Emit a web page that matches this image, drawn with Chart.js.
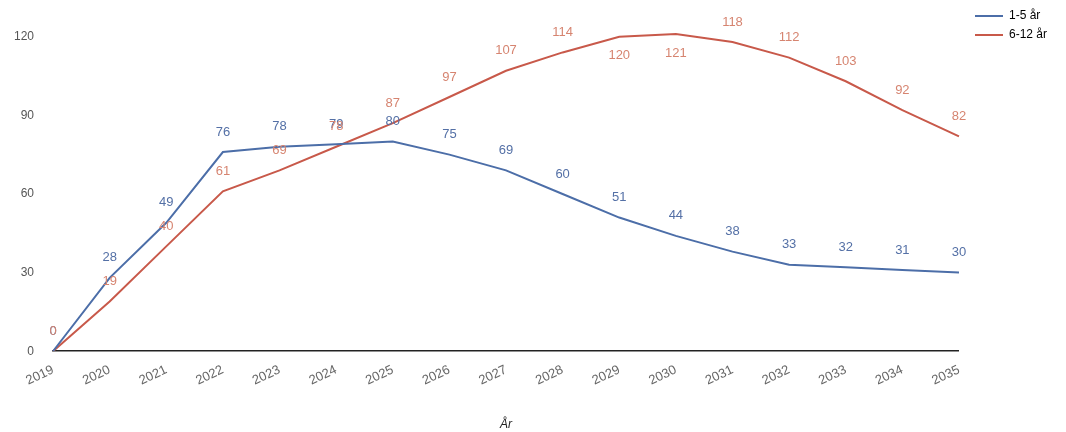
<!DOCTYPE html>
<html>
<head>
<meta charset="utf-8">
<script src="https://cdn.jsdelivr.net/npm/chart.js@4/dist/chart.umd.min.js"></script>
<style>
  html, body { margin: 0; padding: 0; background: #fff; }
  #wrap { width: 1066px; height: 432px; position: relative; }
</style>
</head>
<body>
<div id="wrap"><canvas id="chart"></canvas></div>
<script>
const years = ['2019', '2020', '2021', '2022', '2023', '2024', '2025', '2026', '2027',
    '2028', '2029', '2030', '2031', '2032', '2033', '2034', '2035'];
const age1to5 = [0, 28, 49, 76, 78, 79, 80, 75, 69, 60, 51, 44, 38, 33, 32, 31, 30];
const age6to12 = [0, 19, 40, 61, 69, 78, 87, 97, 107, 114, 120, 121, 118, 112, 103, 92, 82];
const yTicks = [0, 30, 60, 90, 120];

// writes the value of each point next to it
const valueLabels = {
    id: 'valueLabels',
    afterDatasetsDraw(chart) {
        const ctx = chart.ctx;
        ctx.save();
        ctx.font = '13px "Liberation Sans", Arial, sans-serif';
        ctx.textAlign = 'center';
        ctx.textBaseline = 'middle';
        chart.data.datasets.forEach(function (ds, i) {
            const meta = chart.getDatasetMeta(i);
            ctx.fillStyle = ds.labelColor;
            meta.data.forEach(function (pt, j) {
                const v = ds.data[j];
                const dy = v >= 120 ? 19 : -20;
                ctx.fillText(v, pt.x, pt.y + dy);
            });
        });
        ctx.restore();
    }
};

// leaves some room between the plot and the legend items
const legendGap = {
    id: 'legendGap',
    beforeLayout(chart) {
        const legend = chart.legend;
        if (!legend || legend._gapPatched) return;
        const fit = legend.fit;
        legend.fit = function () {
            fit.call(this);
            this.width += 9;
        };
        legend._gapPatched = true;
    },
    afterLayout(chart) {
        if (chart.legend) {
            chart.legend.left += 9;
            chart.legend.right += 9;
        }
    }
};

const data = {
    labels: years,
    datasets: [{
        label: '1-5 år',
        data: age1to5,
        borderColor: '#4c6ea8',
        backgroundColor: '#4c6ea8',
        labelColor: '#5470a6',
        borderWidth: 2,
        pointRadius: 0,
        tension: 0
    }, {
        label: '6-12 år',
        data: age6to12,
        borderColor: '#c8594a',
        backgroundColor: '#c8594a',
        labelColor: '#d68470',
        borderWidth: 2,
        pointRadius: 0,
        tension: 0
    }]
};

new Chart(document.getElementById('chart'), {
    type: 'line',
    data: data,
    plugins: [valueLabels, legendGap],
    options: {
        responsive: true,
        maintainAspectRatio: false,
        animation: false,
        layout: { padding: { left: -5, right: 9, top: 3, bottom: 0 } },
        plugins: {
            tooltip: { enabled: false },
            legend: {
                position: 'right',
                align: 'start',
                labels: {
                    color: '#000',
                    font: { family: '"Liberation Sans", Arial, sans-serif', size: 12 },
                    boxWidth: 28,
                    boxHeight: 2,
                    padding: 7,
                    generateLabels(chart) {
                        return chart.data.datasets.map(function (ds, i) {
                            return {
                                text: ds.label,
                                fillStyle: ds.borderColor,
                                strokeStyle: ds.borderColor,
                                lineWidth: 0,
                                fontColor: '#000',
                                hidden: false,
                                datasetIndex: i
                            };
                        });
                    }
                }
            }
        },
        scales: {
            x: {
                grid: { display: false },
                border: { display: true, color: '#222', width: 1.5 },
                ticks: {
                    color: '#666',
                    font: { family: '"Liberation Sans", Arial, sans-serif', size: 13 },
                    minRotation: 25,
                    maxRotation: 25,
                    padding: 3
                },
                title: {
                    display: true,
                    text: 'År',
                    color: '#222',
                    font: { family: '"Liberation Sans", Arial, sans-serif', size: 12, style: 'italic' },
                    padding: { top: 26, bottom: 0 }
                }
            },
            y: {
                min: 0,
                max: 124,
                grid: { display: false, drawTicks: false },
                border: { display: false },
                afterBuildTicks(scale) {
                    scale.ticks = yTicks.map(function (v) { return { value: v }; });
                },
                ticks: {
                    color: '#555',
                    font: { family: '"Liberation Sans", Arial, sans-serif', size: 12 },
                    padding: 19
                }
            }
        }
    }
});
</script>
</body>
</html>
